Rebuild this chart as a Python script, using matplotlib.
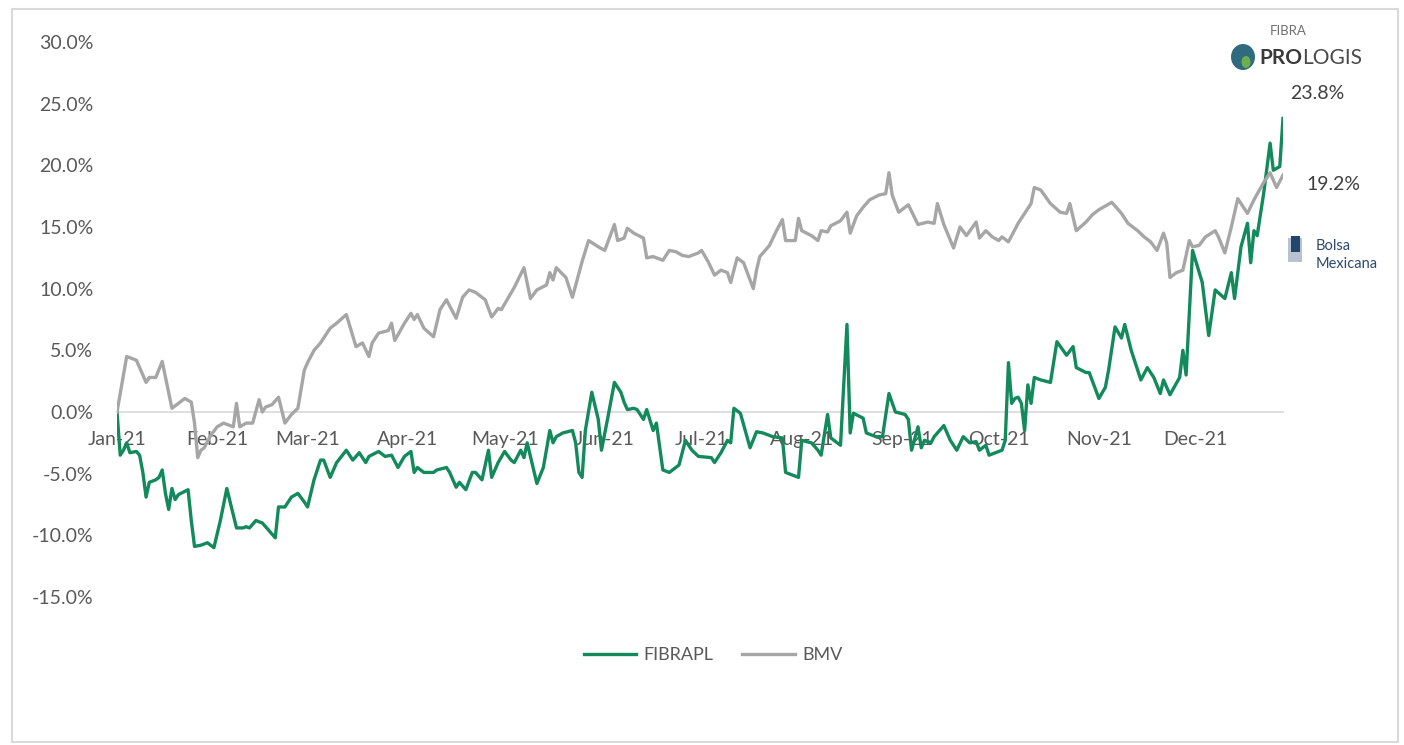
import pandas as pd
import matplotlib
matplotlib.use('Agg')
import matplotlib.pyplot as plt
import matplotlib.dates as mdates
from matplotlib.patches import Rectangle, Ellipse
from matplotlib.ticker import FuncFormatter

plt.rcParams['font.family'] = ['Lato', 'DejaVu Sans']

# días transcurridos desde el 1-ene-2021 y rendimiento acumulado (%)
fibra_days = [0, 1, 2, 3, 4, 6, 7, 8, 9, 10, 12, 13, 14, 15, 16, 17, 18, 19, 22, 23,
              24, 26, 28, 30, 32, 34, 37, 39, 40, 41, 43, 45, 47, 49, 50, 52, 54, 56, 58, 59,
              61, 63, 64, 66, 68, 71, 73, 75, 77, 78, 81, 83, 85, 87, 89, 91, 92, 93, 95, 98,
              99, 102, 103, 105, 106, 108, 110, 111, 113, 115, 116, 118, 120, 122, 123, 125, 126, 127, 130, 132,
              134, 135, 136, 138, 141, 142, 143, 144, 145, 147, 149, 150, 152, 154, 156, 157, 158, 160, 161, 163,
              164, 166, 167, 169, 171, 174, 176, 178, 180, 184, 185, 187, 189, 190, 191, 193, 196, 198, 200, 203,
              206, 207, 211, 212, 215, 217, 218, 220, 221, 224, 226, 227, 228, 231, 232, 235, 237, 239, 241, 244,
              245, 246, 248, 249, 250, 252, 253, 256, 258, 260, 262, 264, 266, 267, 269, 270, 272, 274, 275, 276,
              277, 278, 279, 280, 281, 282, 283, 284, 286, 289, 291, 294, 296, 297, 300, 301, 304, 306, 307, 309,
              311, 312, 314, 317, 319, 321, 323, 324, 326, 329, 330, 331, 333, 336, 338, 340, 343, 345, 346, 348,
              350, 351, 352, 353, 355, 357, 358, 360, 361]
fibra_ret = [0.0, -3.5, -3.1, -2.5, -3.3, -3.2, -3.5, -4.9, -6.9, -5.7, -5.5, -5.3, -4.7, -6.6, -7.9, -6.2, -7.1, -6.7, -6.3, -8.8,
             -10.9, -10.8, -10.6, -11.0, -8.8, -6.2, -9.4, -9.4, -9.3, -9.4, -8.8, -9.0, -9.6, -10.2, -7.7, -7.7, -6.9, -6.6, -7.3, -7.7,
             -5.5, -3.9, -3.9, -5.3, -4.1, -3.1, -3.9, -3.3, -4.1, -3.6, -3.2, -3.6, -3.5, -4.5, -3.6, -3.2, -4.9, -4.5, -4.9, -4.9,
             -4.7, -4.5, -4.9, -6.1, -5.7, -6.3, -4.9, -4.9, -5.5, -3.1, -5.3, -4.1, -3.2, -3.9, -4.1, -3.1, -3.7, -2.5, -5.8, -4.5,
             -1.5, -2.5, -2.0, -1.7, -1.5, -2.5, -4.9, -5.3, -1.5, 1.6, -0.6, -3.1, -0.4, 2.4, 1.6, 0.8, 0.2, 0.3, 0.2, -0.6,
             0.2, -1.5, -0.9, -4.7, -4.9, -4.3, -2.3, -3.1, -3.6, -3.7, -4.1, -3.3, -2.3, -2.5, 0.3, -0.1, -2.9, -1.6, -1.7, -2.0,
             -2.1, -4.9, -5.3, -2.3, -2.5, -3.1, -3.5, -0.2, -2.1, -2.7, 7.1, -1.7, -0.1, -0.5, -1.7, -2.0, -2.0, 1.5, 0.0, -0.2,
             -0.6, -3.1, -1.2, -2.9, -2.3, -2.5, -2.0, -1.1, -2.3, -3.1, -2.0, -2.5, -2.4, -3.1, -2.7, -3.5, -3.3, -3.1, -2.3, 4.0,
             0.7, 1.1, 1.2, 0.7, -1.5, 2.2, 0.7, 2.8, 2.6, 2.4, 5.7, 4.6, 5.3, 3.6, 3.2, 3.2, 1.1, 2.0, 3.4, 6.9,
             6.0, 7.1, 5.0, 2.6, 3.6, 2.8, 1.5, 2.6, 1.4, 2.8, 5.0, 3.0, 13.1, 10.5, 6.2, 9.9, 9.2, 11.3, 9.2, 13.4,
             15.3, 12.1, 14.7, 14.3, 17.7, 21.8, 19.6, 19.9, 23.8]

bmv_days = [0, 3, 6, 9, 10, 12, 14, 17, 19, 21, 23, 24, 25, 26, 27, 29, 31, 33, 36, 37,
            38, 40, 42, 44, 45, 46, 48, 50, 52, 54, 56, 58, 59, 61, 63, 66, 68, 71, 74, 76,
            78, 79, 81, 84, 85, 86, 89, 91, 92, 93, 95, 98, 100, 102, 105, 107, 109, 111, 114, 116,
            118, 119, 121, 123, 126, 128, 130, 133, 134, 135, 136, 139, 141, 144, 146, 149, 151, 154, 155, 157,
            158, 160, 163, 164, 166, 169, 171, 173, 175, 177, 180, 181, 183, 185, 187, 189, 190, 192, 194, 197,
            198, 199, 202, 204, 206, 207, 210, 211, 212, 215, 217, 218, 220, 221, 224, 226, 227, 229, 231, 233,
            236, 238, 239, 240, 242, 244, 245, 248, 251, 253, 254, 256, 259, 261, 263, 266, 267, 269, 271, 273,
            274, 276, 279, 281, 283, 284, 286, 289, 292, 294, 295, 297, 300, 302, 304, 308, 311, 313, 316, 318,
            320, 322, 324, 325, 326, 328, 330, 332, 333, 335, 337, 340, 341, 343, 345, 347, 350, 352, 355, 357,
            359, 361]
bmv_ret = [0.0, 4.5, 4.2, 2.4, 2.8, 2.8, 4.1, 0.3, 0.7, 1.1, 0.8, -0.9, -3.7, -3.1, -2.9, -1.9, -1.2, -0.9, -1.2, 0.7,
           -1.2, -0.9, -0.9, 1.0, 0.0, 0.4, 0.6, 1.2, -0.9, -0.2, 0.3, 3.4, 4.0, 5.0, 5.6, 6.8, 7.2, 7.9, 5.3, 5.6,
           4.5, 5.6, 6.4, 6.6, 7.2, 5.8, 7.2, 8.0, 7.5, 7.9, 6.8, 6.1, 8.3, 9.1, 7.6, 9.3, 9.9, 9.7, 9.1, 7.7,
           8.4, 8.3, 9.2, 10.1, 11.7, 9.2, 9.9, 10.3, 11.3, 10.7, 11.7, 10.9, 9.3, 12.2, 13.9, 13.4, 13.1, 15.2, 13.9, 14.1,
           14.9, 14.5, 14.1, 12.5, 12.6, 12.3, 13.1, 13.0, 12.7, 12.6, 12.9, 13.1, 12.2, 11.1, 11.5, 11.3, 10.5, 12.5, 12.1, 10.0,
           11.5, 12.6, 13.5, 14.6, 15.6, 13.9, 13.9, 15.7, 14.7, 14.3, 13.9, 14.7, 14.6, 15.1, 15.5, 16.2, 14.5, 15.9, 16.6, 17.2,
           17.6, 17.7, 19.4, 17.6, 16.2, 16.6, 16.8, 15.2, 15.4, 15.3, 16.9, 15.2, 13.3, 15.0, 14.3, 15.4, 14.1, 14.7, 14.2, 13.9,
           14.2, 13.8, 15.3, 16.1, 16.9, 18.2, 18.0, 16.9, 16.2, 16.1, 16.9, 14.7, 15.4, 16.0, 16.4, 17.0, 16.1, 15.3, 14.7, 14.2,
           13.8, 13.1, 14.5, 13.7, 10.9, 11.3, 11.5, 13.9, 13.4, 13.5, 14.2, 14.7, 14.2, 12.9, 15.0, 17.3, 16.1, 17.2, 18.6, 19.4,
           18.2, 19.2]

month_labels = ['Jan-21', 'Feb-21', 'Mar-21', 'Apr-21', 'May-21', 'Jun-21',
                'Jul-21', 'Aug-21', 'Sep-21', 'Oct-21', 'Nov-21', 'Dec-21']

start = pd.Timestamp('2021-01-01')
fibra_dates = start + pd.to_timedelta(fibra_days, unit='D')
bmv_dates = start + pd.to_timedelta(bmv_days, unit='D')
month_starts = pd.date_range('2021-01-01', periods=12, freq='MS')

GREEN = '#138a5c'
GRAY = '#a6a6a6'
TXT = '#595959'

fig = plt.figure(figsize=(14.04, 7.45), dpi=100)
ax = fig.add_axes([117 / 1404, 1 - 597 / 745, (1283 - 117) / 1404, (597 - 42) / 745])

ax.plot(fibra_dates, fibra_ret, color=GREEN, lw=2.4, label='FIBRAPL', zorder=3)
ax.plot(bmv_dates, bmv_ret, color=GRAY, lw=2.4, label='BMV', zorder=3)

ax.set_xlim(fibra_dates[0], fibra_dates[-1])
ax.set_ylim(-15, 30)
ax.set_yticks(range(-15, 31, 5))
ax.yaxis.set_major_formatter(FuncFormatter(lambda v, p: f'{v:.1f}%'))
ax.set_xticks(month_starts)
ax.set_xticklabels(month_labels)

for s in ['top', 'right', 'left']:
    ax.spines[s].set_visible(False)
ax.spines['bottom'].set_position(('data', 0))
ax.spines['bottom'].set_color('#d9d9d9')
ax.spines['bottom'].set_linewidth(1.2)
ax.tick_params(axis='x', length=0, pad=14, labelsize=14, labelcolor=TXT)
ax.tick_params(axis='y', length=0, pad=17, labelsize=14, labelcolor=TXT)

# etiquetas del último valor
ax.annotate(f'{fibra_ret[-1]:.1f}%', xy=(fibra_dates[-1], fibra_ret[-1]), xytext=(25, 18),
            textcoords='offset points', ha='center', va='center', fontsize=14, color='#404040')
ax.annotate(f'{bmv_ret[-1]:.1f}%', xy=(bmv_dates[-1], bmv_ret[-1]), xytext=(36, -7),
            textcoords='offset points', ha='center', va='center', fontsize=14, color='#404040')

fig.legend(loc='center', bbox_to_anchor=(713 / 1404, 1 - 655 / 745), ncol=2, frameon=False,
           fontsize=13, labelcolor=TXT, handlelength=2.9, columnspacing=1.6, handletextpad=0.4)

# logo FIBRA PROLOGIS (aprox. en texto)
fig.patches.append(Ellipse((1243 / 1404, 1 - 57 / 745), 24 / 1404, 26 / 745, transform=fig.transFigure,
                           facecolor='#2f6b7e', edgecolor='none'))
fig.patches.append(Ellipse((1246 / 1404, 1 - 62 / 745), 9 / 1404, 12 / 745, transform=fig.transFigure,
                           facecolor='#6fae4a', edgecolor='none'))
fig.text(1270 / 1404, 1 - 31 / 745, 'FIBRA', fontsize=9.5, color='#707070', va='center')
fig.text(1259 / 1404, 1 - 58 / 745, 'PRO', fontsize=15, fontweight='bold', color='#3a3a3a', va='center')
fig.text(1302 / 1404, 1 - 58 / 745, 'LOGIS', fontsize=15, color='#4a4a4a', va='center')

# logo Bolsa Mexicana (aprox.)
fig.patches.append(Rectangle((1288 / 1404, 1 - 262 / 745), 14 / 1404, 24 / 745, transform=fig.transFigure,
                             facecolor='#b8c3cf', edgecolor='none'))
fig.patches.append(Rectangle((1291 / 1404, 1 - 252 / 745), 9 / 1404, 16 / 745, transform=fig.transFigure,
                             facecolor='#23466e', edgecolor='none'))
fig.text(1316 / 1404, 1 - 246 / 745, 'Bolsa', fontsize=10.5, color='#2b4a6f', va='center')
fig.text(1316 / 1404, 1 - 264 / 745, 'Mexicana', fontsize=10.5, color='#2b4a6f', va='center')

# marco exterior
fig.patches.append(Rectangle((12 / 1404, 1 - 742 / 745), (1398 - 12) / 1404, (742 - 9) / 745,
                             transform=fig.transFigure, fill=False, edgecolor='#d9d9d9', lw=1.5))

fig.savefig('out.png', dpi=100)
